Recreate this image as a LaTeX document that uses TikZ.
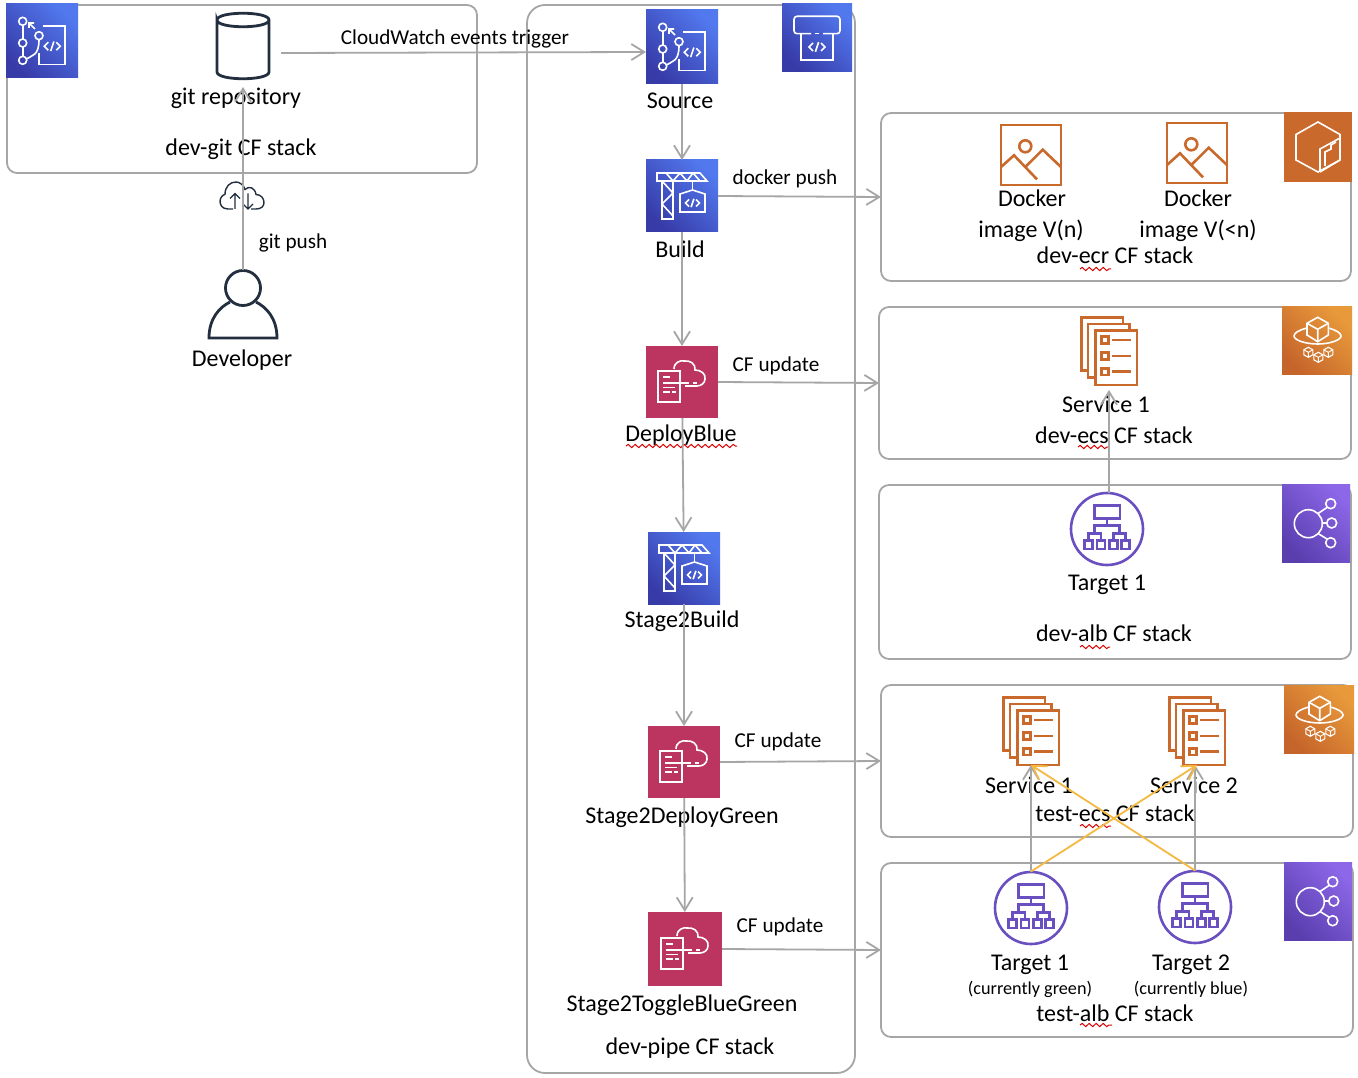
\documentclass[tikz,border=0pt]{standalone}
\usepackage{fontspec}
\setmainfont{Carlito}
\usetikzlibrary{arrows.meta}
\usetikzlibrary{positioning}
\usetikzlibrary{decorations.pathmorphing}
\definecolor{flowgrey}{HTML}{A6A6A6}
\definecolor{inkdark}{HTML}{232F3E}
\definecolor{swapyellow}{HTML}{F4B942}
\definecolor{awsorange}{HTML}{C96A2C}
\definecolor{awspurple}{HTML}{6A4FC0}
\definecolor{devlow}{HTML}{373BA8}
\definecolor{devhigh}{HTML}{5278EE}
\definecolor{cfpink}{HTML}{BC3460}
\definecolor{ecslow}{HTML}{C6652B}
\definecolor{ecshigh}{HTML}{E89A3B}
\definecolor{alblow}{HTML}{5A3EAE}
\definecolor{albhigh}{HTML}{8C67E8}

\tikzset{
    iconbox/.style={inner sep=0pt,outer sep=0pt,minimum width=72pt,minimum height=72pt},
    devicon/.style={iconbox,bottom color=devlow,top color=devhigh,shading angle=-45},
    cficon/.style={iconbox,fill=cfpink},
    ecricon/.style={iconbox,fill=awsorange},
    ecsicon/.style={iconbox,bottom color=ecslow,top color=ecshigh,shading angle=-45},
    albicon/.style={iconbox,bottom color=alblow,top color=albhigh,shading angle=-45},
    plain/.style={inner sep=0pt,outer sep=0pt},
    stackbox/.style={draw=flowgrey,line width=1.8pt,rounded corners=10pt,inner sep=0pt,outer sep=0pt},
    flow/.style={draw=flowgrey,line width=1.8pt,-{Straight Barb[length=13pt,width=16pt]}},
    swap/.style={draw=swapyellow,line width=1.8pt,-{Straight Barb[length=13pt,width=16pt]}},
    lbl/.style={inner sep=0pt,text height=21pt,text depth=5pt,font=\fontsize{24}{26}\selectfont},
    tinylbl/.style={inner sep=0pt,text height=20pt,text depth=5pt,font=\fontsize{21.2}{24}\selectfont},
    minilbl/.style={inner sep=0pt,text height=16pt,text depth=4pt,font=\fontsize{18.2}{20}\selectfont},
    squiggle/.style={draw=red!85!black,line width=1pt,decorate,decoration={snake,amplitude=1.6pt,segment length=7pt}},
    glyph/.style={draw=white,line width=1.6pt},
    % glyphs drawn round the centre of their node
    pics/codemark/.style={code={
        \draw[glyph] (-5,-5) -- (-10,0) -- (-5,5);
        \draw[glyph] (5,-5) -- (10,0) -- (5,5);
        \draw[glyph] (2,-6) -- (-2,6);
    }},
    pics/gitglyph/.style={code={
        \draw[glyph] (-19.3,-15.7) -- (-19.3,-2) (-19.3,6) -- (-19.3,15.3);
        \draw[glyph] (-19.3,-19.7) circle (4pt) (-19.3,2) circle (4pt) (-19.3,19.3) circle (4pt) (-3,-5.3) circle (4pt);
        \draw[glyph] (-15.5,18) .. controls (-10,14) and (-3,15) .. (-3,-1.3);
        \draw[glyph] (-7,-12) -- (-13,-18) (-13,-13) -- (-13,-18) -- (-8,-18);
        \draw[glyph] (1.3,-14.7) -- (23,-14.7) -- (23,23.7) -- (-3,23.7) -- (-3,12);
        \pic[scale=0.8] at (10.3,5.3) {codemark};
    }},
    pics/buildglyph/.style={code={
        \draw[glyph] (-20,-15) rectangle (-9,23);
        \draw[glyph] (-20,-15) -- (-9,-3) -- (-20,8) -- (-9,20);
        \draw[glyph] (-25,-23) -- (18,-23) -- (25,-15) -- (-25,-15) -- cycle;
        \draw[glyph] (-16,-23) -- (-9,-15) -- (-2,-23) -- (5,-15) -- (11,-23) -- (18,-15);
        \draw[glyph] (10.5,-15) -- (10.5,-6);
        \draw[glyph] (-2,-2) -- (10.5,-6) -- (23,-2) -- (23,16) -- (-2,16) -- cycle;
        \pic[scale=0.7] at (10.5,7) {codemark};
    }},
    pics/cfglyph/.style={code={
        \draw[glyph] (-24,-11) rectangle (-2,20);
        \draw[glyph] (-19,-5) -- (-12,-5) (-19,1) -- (7,1) (11,1) -- (15,1) (-19,5.5) -- (-7,5.5) (-19,10) -- (-12,10) (-10,10) -- (-6,10);
        \draw[glyph] (-8,-13) .. controls (-8,-20) and (-1,-22) .. (2,-21) .. controls (8,-22) and (14,-18) .. (13,-12) .. controls (19,-12) and (24,-8) .. (23,-3) .. controls (23,1) and (19,4) .. (15,4) -- (3,4);
    }},
    pics/pipeglyph/.style={code={
        \draw[glyph,rounded corners=3pt] (-6,-4.3) -- (-23,-4.3) -- (-23,-21.7) -- (23,-21.7) -- (23,-4.3) -- (6,-4.3);
        \draw[glyph] (-2,-4.3) -- (2,-4.3);
        \draw[glyph] (-16,-4.3) -- (-16,22.3) -- (16,22.3) -- (16,-4.3);
        \pic[scale=0.8] at (0,9) {codemark};
    }},
    pics/ecrglyph/.style={code={
        \draw[glyph] (22,13) -- (0,25) -- (-22,13) -- (-22,-12.5) -- (0,-25) -- (22,-12.5) -- (22,-10);
        \draw[glyph] (2,25) -- (2,2) -- (22,-9) -- (22,13) -- (2,25);
        \draw[glyph] (7,19) -- (7,5) -- (13,2) -- (13,-2) -- (18,-5);
    }},
    pics/minicube/.style={code={
        \draw[glyph,line width=1.1pt] (0,-5) -- (4.5,-2.5) -- (4.5,2.5) -- (0,5) -- (-4.5,2.5) -- (-4.5,-2.5) -- cycle;
        \draw[glyph,line width=0.9pt] (-4.5,-2.5) -- (0,0) -- (4.5,-2.5) (0,0) -- (0,5);
    }},
    pics/ecsglyph/.style={code={
        \draw[glyph] (0.7,-22.7) -- (11.3,-16.7) -- (11.3,-5) -- (0.7,1.7) -- (-10,-5) -- (-10,-16.7) -- cycle;
        \draw[glyph] (-10,-16.7) -- (0.7,-10.7) -- (11.3,-16.7) (0.7,-10.7) -- (0.7,1.7);
        \draw[glyph] (-10,-12) .. controls (-18,-10) and (-23,-7) .. (-23,-4) .. controls (-23,0) and (-12,4) .. (0.7,4) .. controls (13,4) and (24,0) .. (24,-4) .. controls (24,-7) and (19,-10) .. (11.3,-12);
        \pic at (-8.7,12.3) {minicube};
        \pic at (1.3,17.3) {minicube};
        \pic at (11.3,12.3) {minicube};
    }},
    pics/albglyph/.style={code={
        \draw[glyph] (-7.7,0.7) circle (14pt);
        \draw[glyph] (14.7,-19.3) circle (5pt) (15.7,0) circle (5pt) (14.7,19.7) circle (5pt);
        \draw[glyph] (2,-9.5) -- (11,-15.5) (6.3,0) -- (10.7,0) (2,10.5) -- (11,16);
    }},
    pics/imageglyph/.style={code={
        \draw[draw=awsorange,line width=2.6pt] (-30,-30) rectangle (30,30);
        \draw[draw=awsorange,line width=2.6pt] (-5.7,-8.7) circle (6pt);
        \draw[draw=awsorange,line width=2.6pt] (-30,12) -- (-17,0.3) -- (6,24.3);
        \draw[draw=awsorange,line width=2.6pt] (-5.7,12) -- (11.7,-5.3) -- (30,12);
    }},
    pics/taskglyph/.style={code={
        \begin{scope}[draw=awsorange,line width=2.6pt]
        \draw (-21,19.7) -- (-27.7,19.7) -- (-27.7,-33.7) -- (14,-33.7) -- (14,-27);
        \draw (-13.7,26.3) -- (-21,26.3) -- (-21,-27) -- (20.7,-27) -- (20.7,-20.3);
        \draw (-13.7,-20.3) rectangle (28,34);
        \foreach \rowy in {-11,5,20.7} {
            \draw (-7.7,\rowy-3.3) rectangle (-0.7,\rowy+3.3);
            \draw (3,\rowy) -- (22.3,\rowy);
        }
        \end{scope}
    }},
    pics/targetglyph/.style={code={
        \begin{scope}[draw=awspurple,line width=2.6pt]
        \draw (0,0) circle (36pt);
        \draw (-12.5,-23.5) rectangle (13,-10.6);
        \draw (0,-10.6) -- (0,-3.3);
        \draw (-12.3,4.3) -- (-12.3,-3.3) -- (12.7,-3.3) -- (12.7,4.3);
        \draw (-18.3,11.7) -- (-18.3,4.3) -- (-6,4.3) -- (-6,11.7);
        \draw (6.7,11.7) -- (6.7,4.3) -- (18.3,4.3) -- (18.3,11.7);
        \foreach \boxx in {-18.3,-6,6.7,18.3} {
            \draw (\boxx-4,11.7) rectangle (\boxx+4,20);
        }
        \end{scope}
    }},
}

\begin{document}
\begin{tikzpicture}[x=1pt,y=-1pt]
    \useasboundingbox[fill=white] (0,0) rectangle (1358,1078);

    % the stacks
    \node[stackbox,minimum width=470pt,minimum height=168pt] (devgit) at (242,89) {};
    \node[stackbox,rounded corners=18pt,minimum width=328pt,minimum height=1068pt] (devpipe) at (691,539) {};
    \node[stackbox,minimum width=470pt,minimum height=168pt] (devecr) at (1116,197) {};
    \node[stackbox,minimum width=472pt,minimum height=152pt] (devecs) at (1115,383) {};
    \node[stackbox,minimum width=472pt,minimum height=174pt] (devalb) at (1115,572) {};
    \node[stackbox,minimum width=472pt,minimum height=152pt] (testecs) at (1117,761) {};
    \node[stackbox,minimum width=472pt,minimum height=174pt] (testalb) at (1117,950) {};

    % corner icons
    \node[devicon,minimum height=74pt] (giticon) at (42,41) {};
    \pic at (giticon) {gitglyph};
    \node[devicon,minimum width=70pt,minimum height=68pt] (pipeicon) at (817,38) {};
    \pic at (pipeicon) {pipeglyph};
    \node[ecricon,minimum width=68pt,minimum height=70pt] (ecricon) at (1318,147) {};
    \pic at (ecricon) {ecrglyph};
    \node[ecsicon,minimum width=70pt,minimum height=68pt] (ecsicona) at (1317,340) {};
    \pic at (ecsicona) {ecsglyph};
    \node[albicon,minimum width=68pt,minimum height=78pt] (albicona) at (1316,523) {};
    \pic at (albicona) {albglyph};
    \node[ecsicon,minimum width=70pt,minimum height=68pt] (ecsiconb) at (1319,719) {};
    \pic at (ecsiconb) {ecsglyph};
    \node[albicon,minimum width=68pt,minimum height=78pt] (albiconb) at (1318,901) {};
    \pic at (albiconb) {albglyph};

    % pipeline stages
    \node[devicon,minimum height=74pt] (source) at (682,47) {};
    \node[devicon] (build) [below = 76pt of source] {};
    \node[cficon] (deploy) [below = 114pt of build] {};
    \node[devicon] (stagebuild) [below = 114pt of deploy, xshift=2pt] {};
    \node[cficon] (stagegreen) [below = 122pt of stagebuild] {};
    \node[cficon,minimum width=74pt,minimum height=74pt] (toggle) [below = 114pt of stagegreen, xshift=1pt] {};
    \pic at (source) {gitglyph};
    \pic at (build) {buildglyph};
    \pic at (deploy) {cfglyph};
    \pic at (stagebuild) {buildglyph};
    \pic at (stagegreen) {cfglyph};
    \pic at (toggle) {cfglyph};

    % repository and developer
    \node[plain,minimum width=76pt,minimum height=80pt] (repo) at (243,47) {};
    \draw[inkdark,line width=2.8pt] (217,20) .. controls (217,11) and (269,11) .. (269,20) .. controls (269,29) and (217,29) .. (217,20) -- (217,72) .. controls (217,81) and (269,81) .. (269,72) -- (269,20);
    \node[plain,minimum width=70pt,minimum height=68pt] (dev) at (243,304) {};
    \draw[inkdark,line width=2.8pt] (243,288) circle (17.5pt);
    \draw[inkdark,line width=2.8pt] (230,302) .. controls (220,307) and (209,318) .. (209,338) -- (277,338) .. controls (277,318) and (266,307) .. (256,302);
    \node[plain,minimum width=44pt,minimum height=27pt] (gitcloud) at (242,195.5) {};
    \begin{scope}[shift={(gitcloud)},inkdark,line width=1.4pt]
        \draw (-9,13.5) -- (-14,13.5) .. controls (-20,13.5) and (-22,9) .. (-22,6) .. controls (-22,2) and (-19,-1) .. (-17,-1) .. controls (-17,-9) and (-12,-13.5) .. (-6,-13.5) .. controls (-2,-13.5) and (2,-10) .. (3,-6) .. controls (7,-10) and (13,-8) .. (14,-1) .. controls (19,-1) and (22,3) .. (22,7) .. controls (22,11) and (19,13.5) .. (14,13.5) -- (9,13.5);
        \draw (-7,13.5) -- (-7,-2) (-12,3) -- (-7,-2) -- (-2,3);
        \draw (6,-2) -- (6,13.5) (1,8.5) -- (6,13.5) -- (11,8.5);
    \end{scope}

    % images, services and targets
    \node[plain,minimum width=60pt,minimum height=60pt] (imagen) at (1031,155) {};
    \node[plain,minimum width=60pt,minimum height=60pt] (imageold) at (1197,153) {};
    \pic at (imagen) {imageglyph};
    \pic at (imageold) {imageglyph};
    \node[plain,minimum width=56pt,minimum height=78pt] (devsvc) at (1109,351) {};
    \pic at (devsvc) {taskglyph};
    \node[plain,minimum width=73pt,minimum height=73pt] (devtarget) at (1107,529) {};
    \pic at (devtarget) {targetglyph};
    \node[plain,minimum width=56pt,minimum height=68pt] (testsvca) at (1031,731) {};
    \node[plain,minimum width=56pt,minimum height=68pt] (testsvcb) at (1197,731) {};
    \pic at (testsvca) {taskglyph};
    \pic at (testsvcb) {taskglyph};
    \node[plain,minimum width=73pt,minimum height=73pt] (testtargeta) at (1031,908) {};
    \node[plain,minimum width=73pt,minimum height=73pt] (testtargetb) at (1195,907) {};
    \pic at (testtargeta) {targetglyph};
    \pic at (testtargetb) {targetglyph};

    % texts
    \node[lbl] (repotext) at (236,97) {git repository};
    \node[lbl] (gitstack) at (241,148) {dev-git CF stack};
    \node[lbl] (devtext) at (242,358) {Developer};
    \node[tinylbl] (pushtext) at (293,241) {git push};
    \node[tinylbl] (triggertext) at (455,37) {CloudWatch events trigger};
    \node[lbl] (sourcetext) at (680,101) {Source};
    \node[lbl] (buildtext) at (680,250) {Build};
    \node[tinylbl] (dockertext) at (785,177) {docker push};
    \node[lbl] (deploytext) at (681,433) {DeployBlue};
    \node[tinylbl] (cfa) at (776,364) {CF update};
    \node[lbl] (stagebuildtext) at (682,619) {Stage2Build};
    \node[tinylbl] (cfb) at (778,740) {CF update};
    \node[lbl] (stagegreentext) at (682,815) {Stage2DeployGreen};
    \node[tinylbl] (cfc) at (780,925) {CF update};
    \node[lbl] (toggletext) at (682,1003) {Stage2ToggleBlueGreen};
    \node[lbl] (pipestack) at (690,1046) {dev-pipe CF stack};
    \node[lbl] (dockera) at (1032,199) {Docker};
    \node[lbl] (imagea) at (1031,230) {image V(n)};
    \node[lbl] (dockerb) at (1198,199) {Docker};
    \node[lbl] (imageb) at (1198,230) {image V(<n)};
    \node[lbl] (ecrstack) at (1115,256) {dev-ecr CF stack};
    \node[lbl] (svctext) at (1106,404) {Service 1};
    \node[lbl] (ecsstack) at (1114,435) {dev-ecs CF stack};
    \node[lbl] (targettext) at (1107,582) {Target 1};
    \node[lbl] (albstack) at (1114,633) {dev-alb CF stack};
    \node[lbl] (svcatext) at (1029,785) {Service 1};
    \node[lbl] (svcbtext) at (1194,785) {Service 2};
    \node[lbl] (testecsstack) at (1115,813) {test-ecs CF stack};
    \node[lbl] (targetatext) at (1030,962) {Target 1};
    \node[lbl] (targetbtext) at (1191,962) {Target 2};
    \node[minilbl] (greentext) at (1030,988) {(currently green)};
    \node[minilbl] (bluetext) at (1191,988) {(currently blue)};
    \node[lbl] (testalbstack) at (1115,1013) {test-alb CF stack};

    % spelling marks under the words
    \draw[squiggle] (626,446) -- (737,446);
    \draw[squiggle] (1080,269) -- (1111,269);
    \draw[squiggle] (1078,447) -- (1108,447);
    \draw[squiggle] (1080,647) -- (1110,647);
    \draw[squiggle] (1080,826) -- (1111,826);
    \draw[squiggle] (1080,1025) -- (1112,1025);

    % connectors
    \draw[flow] (dev.north) -- (repo.south);
    \draw[flow] ([yshift=-6pt]repo.east) -- ([yshift=-5pt]source.west);
    \draw[flow] (source) -- (build);
    \draw[flow] (build) -- (deploy);
    \draw[flow] (deploy) -- (stagebuild);
    \draw[flow] (stagebuild) -- (stagegreen);
    \draw[flow] (stagegreen) -- (toggle);
    \draw[flow] (build.east) -- (devecr.west);
    \draw[flow] (deploy.east) -- (devecs.west);
    \draw[flow] (stagegreen.east) -- (testecs.west);
    \draw[flow] (toggle.east) -- (testalb.west);
    \draw[flow] (devtarget.north -| devsvc.south) -- (devsvc.south);
    \draw[flow] (testtargeta.north) -- (testsvca.south);
    \draw[flow] (testtargetb.north) -- (testtargetb.north |- testsvcb.south);
    \draw[swap] (testtargeta.north) -- (testsvcb.south);
    \draw[swap] (testtargetb.north) -- (testsvca.south);
\end{tikzpicture}
\end{document}
